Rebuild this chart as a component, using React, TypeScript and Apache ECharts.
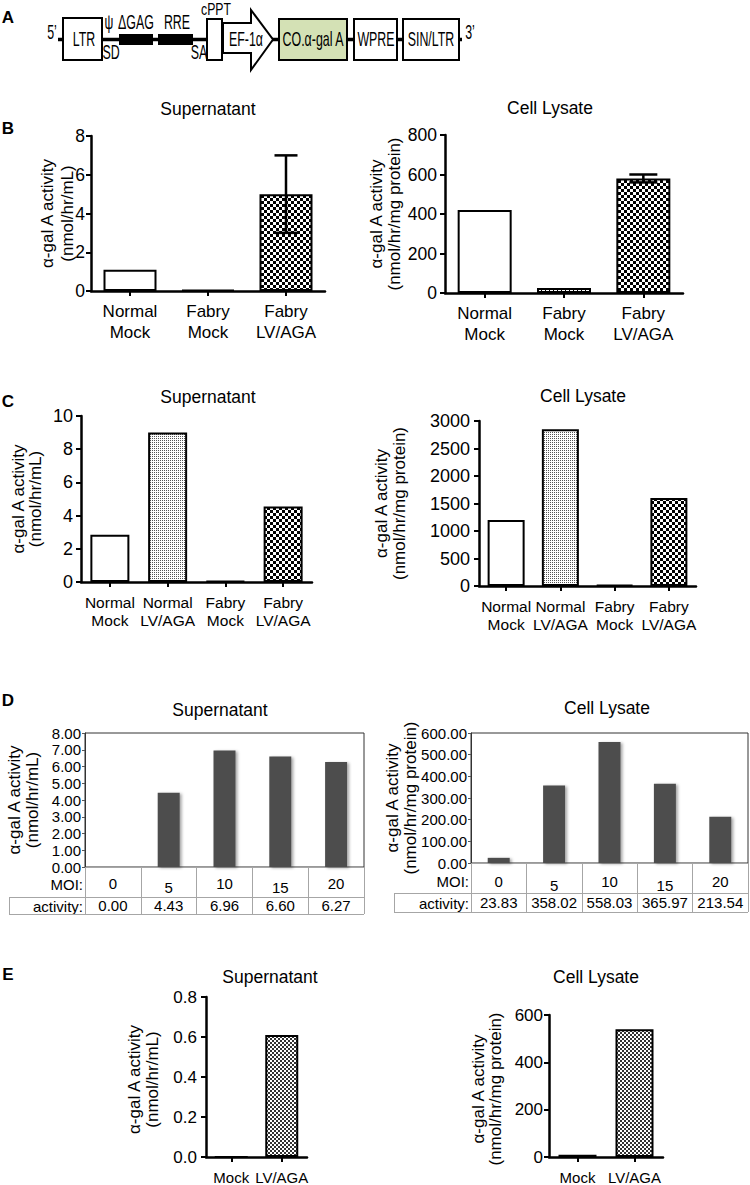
import React, { useEffect, useRef } from 'react';
import * as echarts from 'echarts';

// ---------- data ----------
const catsB = ['Normal\nMock', 'Fabry\nMock', 'Fabry\nLV/AGA'];
const supB = [1.1, 0.05, 5.0];
const supBErr = [0, 0, 2.0];
const lysB = [420, 25, 580];
const lysBErr = [0, 0, 20];

const catsC = ['Normal\nMock', 'Normal\nLV/AGA', 'Fabry\nMock', 'Fabry\nLV/AGA'];
const supC = [2.85, 9.0, 0.05, 4.55];
const lysC = [1200, 2850, 20, 1600];

const moiD = ['0', '5', '10', '15', '20'];
const supD = [0.0, 4.43, 6.96, 6.6, 6.27];
const lysD = [23.83, 358.02, 558.03, 365.97, 213.54];

const catsE = ['Mock', 'LV/AGA'];
const supE = [0, 0.61];
const lysE = [10, 540];

// fill styles per category (style, not data)
const fillB = ['open', 'hatch', 'checker'];
const fillC = ['open', 'dots', 'open', 'checker'];
const fillE = ['fine', 'fine'];

const FONT = '"Liberation Sans", Arial, Helvetica, sans-serif';

function tile(size: number, paint: (ctx: CanvasRenderingContext2D) => void) {
  const c = document.createElement('canvas');
  c.width = size;
  c.height = size;
  const ctx = c.getContext('2d')!;
  ctx.fillStyle = '#fff';
  ctx.fillRect(0, 0, size, size);
  paint(ctx);
  return { image: c, repeat: 'repeat', imageWidth: size, imageHeight: size };
}

function makePatterns() {
  return {
    open: '#fff',
    checker: tile(6, (ctx) => {
      ctx.fillStyle = '#000';
      ctx.fillRect(0, 0, 3, 3);
      ctx.fillRect(3, 3, 3, 3);
    }),
    hatch: tile(4, (ctx) => {
      ctx.fillStyle = '#000';
      for (let i = 0; i < 4; i++) ctx.fillRect(i, 3 - i, 1, 1);
    }),
    dots: tile(2, (ctx) => {
      ctx.fillStyle = '#555';
      ctx.fillRect(0, 0, 1, 1);
    }),
    fine: tile(4, (ctx) => {
      ctx.fillStyle = '#333';
      ctx.fillRect(0, 0, 2, 2);
      ctx.fillRect(2, 2, 2, 2);
    }),
  } as Record<string, any>;
}

function catAxis(gi: number, data: string[], fontSize: number, lineHeight: number, margin: number) {
  return {
    type: 'category',
    gridIndex: gi,
    data,
    axisLine: { show: true, lineStyle: { color: '#000', width: 2.5 } },
    axisTick: { show: true, alignWithLabel: true, length: 5, lineStyle: { color: '#000', width: 2 } },
    axisLabel: { color: '#000', fontSize, lineHeight, margin, fontFamily: FONT, interval: 0 },
    splitLine: { show: false },
  };
}

function valAxis(
  gi: number,
  max: number,
  interval: number,
  fontSize: number,
  margin: number,
  fmt: (v: number) => string = (v) => String(v)
) {
  return {
    type: 'value',
    gridIndex: gi,
    min: 0,
    max,
    interval,
    axisLine: { show: true, lineStyle: { color: '#000', width: 2.5 } },
    axisTick: { show: true, length: 5, lineStyle: { color: '#000', width: 2 } },
    axisLabel: { color: '#000', fontSize, margin, fontFamily: FONT, formatter: fmt },
    splitLine: { show: false },
  };
}

function buildOption() {
  const pat = makePatterns();

  const barSeries = (ai: number, values: number[], fills: string[], width: number) => ({
    type: 'bar',
    xAxisIndex: ai,
    yAxisIndex: ai,
    barWidth: width,
    silent: true,
    data: values.map((v, i) => ({ value: v, itemStyle: { color: pat[fills[i]] } })),
    itemStyle: { borderColor: '#000', borderWidth: 2 },
  });

  const errSeries = (ai: number, values: number[], errs: number[], half: number) => ({
    type: 'custom',
    xAxisIndex: ai,
    yAxisIndex: ai,
    z: 5,
    silent: true,
    data: values.map((v, i) => [i, v, errs[i]]).filter((d) => d[2] > 0),
    renderItem: (params: any, api: any) => {
      const i = api.value(0);
      const m = api.value(1);
      const e = api.value(2);
      const top = api.coord([i, m + e]);
      const bot = api.coord([i, m - e]);
      const st = { stroke: '#000', lineWidth: 2.5 };
      return {
        type: 'group',
        children: [
          { type: 'line', shape: { x1: top[0], y1: top[1], x2: bot[0], y2: bot[1] }, style: st },
          { type: 'line', shape: { x1: top[0] - half, y1: top[1], x2: top[0] + half, y2: top[1] }, style: st },
          { type: 'line', shape: { x1: bot[0] - half, y1: bot[1], x2: bot[0] + half, y2: bot[1] }, style: st },
        ],
      };
    },
  });

  const dBar = (ai: number, values: number[]) => ({
    type: 'bar',
    xAxisIndex: ai,
    yAxisIndex: ai,
    barWidth: 22,
    silent: true,
    data: values,
    itemStyle: {
      color: '#4d4d4d',
      shadowColor: 'rgba(0,0,0,0.35)',
      shadowBlur: 3,
      shadowOffsetX: 2,
      shadowOffsetY: 1,
    },
  });

  const grids = [
    { left: 91, top: 136, width: 234, height: 155 },
    { left: 445, top: 135, width: 238, height: 158 },
    { left: 81, top: 416, width: 231, height: 166 },
    { left: 479, top: 421, width: 217, height: 165 },
    { left: 85, top: 733, width: 279, height: 134, show: true, borderColor: '#333', borderWidth: 1 },
    { left: 471, top: 733, width: 277, height: 130, show: true, borderColor: '#333', borderWidth: 1 },
    { left: 206, top: 997, width: 101, height: 165 },
    { left: 549, top: 1015, width: 114, height: 148 },
  ];

  const moiLabel = (margin: number) => ({
    color: '#000',
    fontSize: 15,
    fontFamily: FONT,
    margin,
    interval: 0,
    formatter: (v: string, i: number) => (i % 2 === 1 ? `{lo|${v}}` : v),
    rich: { lo: { fontSize: 15, fontFamily: FONT, color: '#000', padding: [4, 0, 0, 0] } },
  });

  const dMoiAxis = (gi: number, tickLen: number, margin: number) => ({
    type: 'category',
    gridIndex: gi,
    data: moiD,
    position: 'bottom',
    axisLine: { show: true, lineStyle: { color: '#a6a6a6', width: 1 } },
    axisTick: { show: true, length: tickLen, lineStyle: { color: '#a6a6a6', width: 1 } },
    axisLabel: moiLabel(margin),
    splitLine: { show: false },
  });

  const dActAxis = (gi: number, values: number[], offset: number, margin: number) => ({
    type: 'category',
    gridIndex: gi,
    data: values.map((v) => v.toFixed(2)),
    position: 'bottom',
    offset,
    axisLine: { show: true, lineStyle: { color: '#a6a6a6', width: 1 } },
    axisTick: { show: false },
    axisLabel: { color: '#000', fontSize: 15, fontFamily: FONT, margin, interval: 0 },
    splitLine: { show: false },
  });

  const dValAxis = (gi: number, max: number, interval: number) => ({
    type: 'value',
    gridIndex: gi,
    min: 0,
    max,
    interval,
    axisLine: { show: true, lineStyle: { color: '#333', width: 1 } },
    axisTick: { show: true, length: 3, lineStyle: { color: '#555', width: 1 } },
    axisLabel: { color: '#000', fontSize: 15, fontFamily: FONT, margin: 4, formatter: (v: number) => v.toFixed(2) },
    splitLine: { show: false },
  });

  const xAxis = [
    catAxis(0, catsB, 17, 21, 10),
    catAxis(1, catsB, 17, 21, 10),
    catAxis(2, catsC, 15.5, 18, 11),
    catAxis(3, catsC, 15.5, 18, 11),
    dMoiAxis(4, 47, 9),
    dMoiAxis(5, 49, 11),
    catAxis(6, catsE, 15, 16, 12),
    catAxis(7, catsE, 15, 16, 12),
    dActAxis(4, supD, 30, 1),
    dActAxis(5, lysD, 30, 2),
  ];

  const yAxis = [
    valAxis(0, 8, 2, 17.5, 6),
    valAxis(1, 800, 200, 17.5, 8),
    valAxis(2, 10, 2, 18, 8),
    valAxis(3, 3000, 500, 18, 9),
    dValAxis(4, 8, 1),
    dValAxis(5, 600, 100),
    valAxis(6, 0.8, 0.2, 17, 9, (v) => v.toFixed(1)),
    valAxis(7, 600, 200, 17, 6),
  ];

  const series = [
    barSeries(0, supB, fillB, 53),
    errSeries(0, supB, supBErr, 11.5),
    barSeries(1, lysB, fillB, 54),
    errSeries(1, lysB, lysBErr, 14),
    barSeries(2, supC, fillC, 39),
    barSeries(3, lysC, fillC, 37),
    dBar(4, supD),
    dBar(5, lysD),
    barSeries(6, supE, fillE, 33),
    barSeries(7, lysE, fillE, 38),
  ];

  // ---------- graphics: panel A diagram, titles, letters, axis names, table frame ----------
  const g: any[] = [];
  const txt = (text: string, x: number, y: number, fontSize = 17.5, extra: any = {}) =>
    g.push({
      type: 'text',
      x,
      y,
      silent: true,
      ...(extra.el || {}),
      style: {
        text,
        fontSize,
        fontFamily: FONT,
        fill: '#000',
        align: 'center',
        verticalAlign: 'middle',
        ...(extra.style || {}),
      },
    });
  const line = (x1: number, y1: number, x2: number, y2: number, stroke = '#000', lineWidth = 1) =>
    g.push({ type: 'line', silent: true, shape: { x1, y1, x2, y2 }, style: { stroke, lineWidth } });
  const rect = (x: number, y: number, w: number, h: number, fill: string, stroke = '#000', lw = 2) =>
    g.push({ type: 'rect', silent: true, shape: { x, y, width: w, height: h }, style: { fill, stroke, lineWidth: lw } });

  // Panel A
  line(58, 39.5, 462, 39.5, '#000', 3.5);
  rect(63, 18, 39, 42, '#fff');
  rect(119, 34, 34, 11, '#000', '#000', 0);
  rect(158, 34, 35, 11, '#000', '#000', 0);
  rect(207, 19, 15, 41, '#fff');
  g.push({
    type: 'polygon',
    silent: true,
    shape: { points: [[223, 23], [251, 23], [251, 10], [273, 39.5], [251, 70], [251, 53], [223, 53]] },
    style: { fill: '#fff', stroke: '#000', lineWidth: 2 },
  });
  rect(279, 19, 68, 41, '#d4e1b5');
  rect(354, 19, 43, 41, '#fff');
  rect(403, 19, 56, 41, '#fff');
  const dia = (t: string, x: number, y: number, fs = 20, sx = 0.62) => txt(t, x, y, fs, { el: { scaleX: sx } });
  dia('5’', 52, 32);
  dia('LTR', 84, 39.5);
  dia('ψ', 109, 22);
  dia('ΔGAG', 136, 22);
  dia('RRE', 177, 22);
  dia('SD', 111, 52);
  dia('SA', 199, 52);
  dia('cPPT', 216, 9, 17, 0.72);
  dia('EF-1α', 246, 39.5);
  dia('CO.α-gal A', 313, 39.5);
  dia('WPRE', 376, 39.5);
  dia('SIN/LTR', 431, 39.5);
  dia('3’', 470, 32);

  // panel letters
  const letter = (t: string, y: number) => txt(t, 8, y, 17, { style: { fontWeight: 'bold' } });
  letter('A', 17);
  letter('B', 128);
  letter('C', 401);
  letter('D', 700);
  letter('E', 974);

  // titles
  txt('Supernatant', 208, 109);
  txt('Cell Lysate', 550, 108);
  txt('Supernatant', 208, 397);
  txt('Cell Lysate', 583, 396);
  txt('Supernatant', 220, 710);
  txt('Cell Lysate', 607, 708);
  txt('Supernatant', 270, 977);
  txt('Cell Lysate', 596, 977);

  // y-axis names (rotated, two lines)
  const nameSup = 'α-gal A activity\n(nmol/hr/mL)';
  const nameLys = 'α-gal A activity\n(nmol/hr/mg protein)';
  const yName = (t: string, x: number, y: number, lh = 18.5) =>
    txt(t, x, y, 17, { el: { rotation: Math.PI / 2 }, style: { lineHeight: lh } });
  yName(nameSup, 57, 213.5, 20);
  yName(nameLys, 385.5, 214);
  yName(nameSup, 27, 499, 17.5);
  yName(nameLys, 390, 503.5, 18);
  yName(nameSup, 23, 800, 18);
  yName(nameLys, 401, 798, 18);
  yName(nameSup, 143, 1079.5, 18);
  yName(nameLys, 486.5, 1089, 17);

  // D tables: row labels and frame extensions
  const right = (t: string, x: number, y: number) => txt(t, x, y, 15, { style: { align: 'right' } });
  right('MOI:', 83, 884);
  right('activity:', 83, 906);
  right('MOI:', 469, 881);
  right('activity:', 469, 903);
  const gray = '#a6a6a6';
  line(9, 897.5, 85, 897.5, gray);
  line(9, 914.5, 364, 914.5, gray);
  line(9.5, 897, 9.5, 915, gray);
  line(394, 893.5, 471, 893.5, gray);
  line(394, 912.5, 748, 912.5, gray);
  line(394.5, 893, 394.5, 913, gray);

  return {
    animation: false,
    backgroundColor: '#fff',
    textStyle: { fontFamily: FONT },
    grid: grids,
    xAxis,
    yAxis,
    series,
    graphic: g,
  };
}

export default function App() {
  const ref = useRef<HTMLDivElement>(null);
  useEffect(() => {
    const chart = echarts.init(ref.current!, null, { renderer: 'svg' });
    chart.setOption(buildOption() as any);
    return () => chart.dispose();
  }, []);
  return (
    <div
      ref={ref}
      style={{ position: 'absolute', left: 0, top: 0, width: 750, height: 1185, background: '#fff' }}
    />
  );
}
